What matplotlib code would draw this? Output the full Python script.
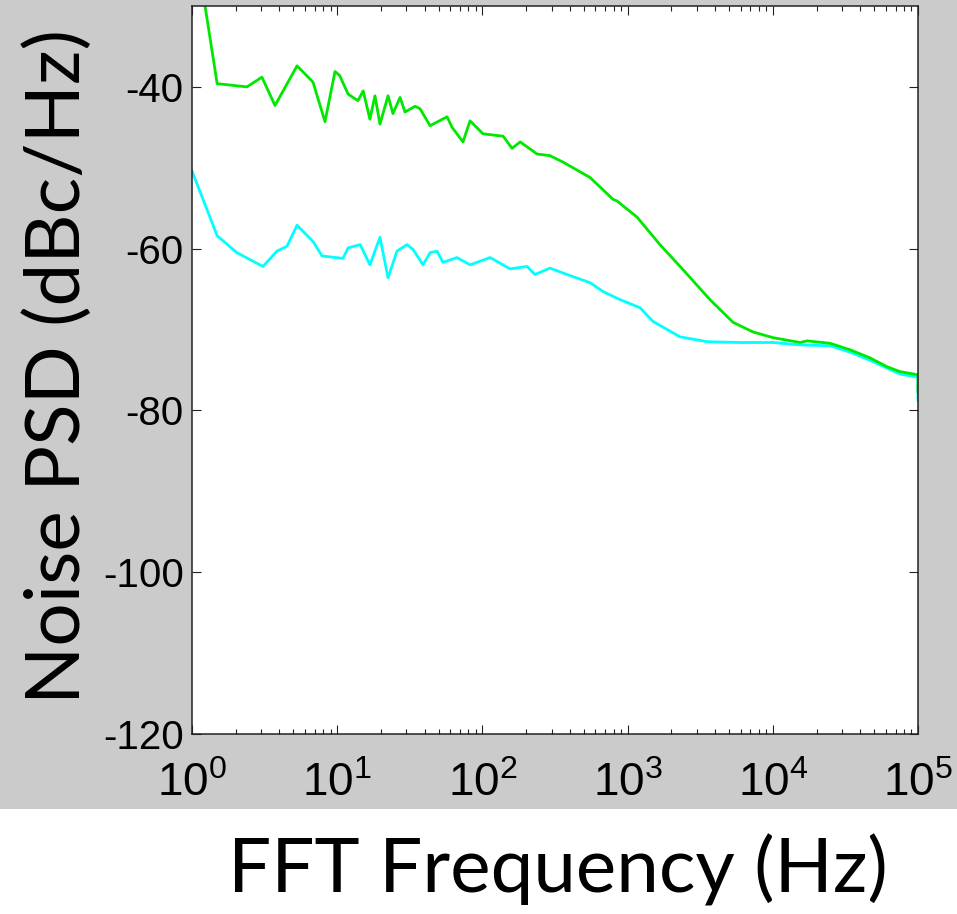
import numpy as np
import matplotlib
matplotlib.use('Agg')
from matplotlib import pyplot as plt
from matplotlib.patches import Rectangle
from matplotlib.ticker import LogLocator, FixedLocator

plt.rcParams['font.family'] = 'Liberation Sans'
plt.rcParams['axes.unicode_minus'] = False
plt.rcParams['mathtext.fontset'] = 'custom'
plt.rcParams['mathtext.rm'] = 'Liberation Sans'
plt.rcParams['mathtext.it'] = 'Liberation Sans'

# ---------------------------------------------------------------
# values (frequency in Hz, PSD in dBc/Hz)
green_freq = [1.0, 1.23, 1.49, 2.39, 3.03, 3.73, 5.29, 6.81, 8.24, 9.66, 10.4,
			  11.9, 13.9, 15.1, 16.8, 18.2, 19.7, 22.4, 24.2, 27.1, 29.3, 34.4,
			  37.2, 43.6, 57.1, 61.8, 73.5, 82.2, 101, 139, 160, 182, 238, 292,
			  359, 551, 793, 845, 1161, 1671, 2409, 3690, 5319, 7311, 10030,
			  15390, 17220, 24780, 34040, 46710, 61180, 75220, 100000, 100000]
green_psd = [-20.0, -30.0, -39.6, -40.0, -38.8, -42.3, -37.4, -39.4, -44.3, -38.1, -38.6,
			 -40.9, -41.7, -40.5, -44.0, -41.1, -44.6, -41.1, -43.3, -41.3, -43.1, -42.4,
			 -42.7, -44.8, -43.7, -45.0, -46.8, -44.2, -45.8, -46.1, -47.6, -46.8, -48.3, -48.5,
			 -49.3, -51.2, -53.9, -54.1, -56.1, -59.5, -62.6, -66.3, -69.1, -70.3, -71.0,
			 -71.6, -71.4, -71.7, -72.5, -73.5, -74.6, -75.2, -75.6, -77.7]

cyan_freq = [1.0, 1.49, 2.04, 3.08, 3.85, 4.51, 5.29, 6.81, 7.86, 10.96, 11.9,
			 14.4, 16.8, 19.7, 22.4, 25.8, 30.3, 33.3, 39.0, 43.6, 48.7, 53.5,
			 66.8, 82.2, 113, 155, 203, 230, 292, 383, 551, 677, 887, 1217,
			 1497, 2296, 3524, 5943, 10030, 15390, 24780, 34040, 46710, 75220,
			 100000, 100000]
cyan_psd = [-50.4, -58.4, -60.5, -62.2, -60.3, -59.7, -57.1, -59.1, -60.9, -61.2, -59.9,
			-59.5, -62.0, -58.6, -63.6, -60.3, -59.5, -60.1, -62.0, -60.5, -60.3, -61.7,
			-61.1, -62.0, -61.1, -62.5, -62.2, -63.2, -62.4, -63.2, -64.2, -65.3, -66.3, -67.3,
			-69.0, -70.9, -71.5, -71.6, -71.6, -71.9, -72.0, -72.8, -73.8, -75.5,
			-75.9, -78.7]

yticks = [-120, -100, -80, -60, -40]

# ===============================================================
W, H = 957, 914
fig = plt.figure(figsize=(W/100, H/100), dpi=100, facecolor='white')

# grey panel behind the axes (MATLAB figure colour)
fig.patches.append(Rectangle((0, 1 - 809/H), 1, 809/H, transform=fig.transFigure,
							 facecolor='#cbcbcb', edgecolor='none', zorder=-1))

ax = fig.add_axes([192/W, 1 - 734/H, (918-192)/W, (734-6)/H])
ax.set_facecolor('white')

ax.plot(cyan_freq, cyan_psd, color='#00ffff', linewidth=2.0)
ax.plot(green_freq, green_psd, color='#00e800', linewidth=2.0)

ax.set_xscale('log')
ax.set_xlim(1, 1e5)
ax.set_ylim(-120, -30)
ax.yaxis.set_major_locator(FixedLocator(yticks))
ax.xaxis.set_major_locator(LogLocator(base=10, numticks=10))
ax.xaxis.set_minor_locator(LogLocator(base=10, subs=np.arange(2, 10), numticks=20))

ax.tick_params(which='both', direction='in', top=True, right=True, color='#222222', width=0.8)
ax.tick_params(which='major', length=6.5)
ax.tick_params(which='minor', length=3.5)
ax.tick_params(axis='y', labelsize=29, pad=6)
ax.tick_params(axis='x', labelsize=33, pad=20)

for sp in ax.spines.values():
	sp.set_linewidth(1.1)
	sp.set_color('#222222')

fig.text(558/W, 1 - 870/H, 'FFT Frequency (Hz)', family='Lato', fontsize=55,
		 ha='center', va='center')
fig.text(58/W, 1 - 366/H, 'Noise PSD (dBc/Hz)', family='Lato', fontsize=55,
		 ha='center', va='center', rotation=90)

fig.savefig('out.png', dpi=100, facecolor=fig.get_facecolor())
